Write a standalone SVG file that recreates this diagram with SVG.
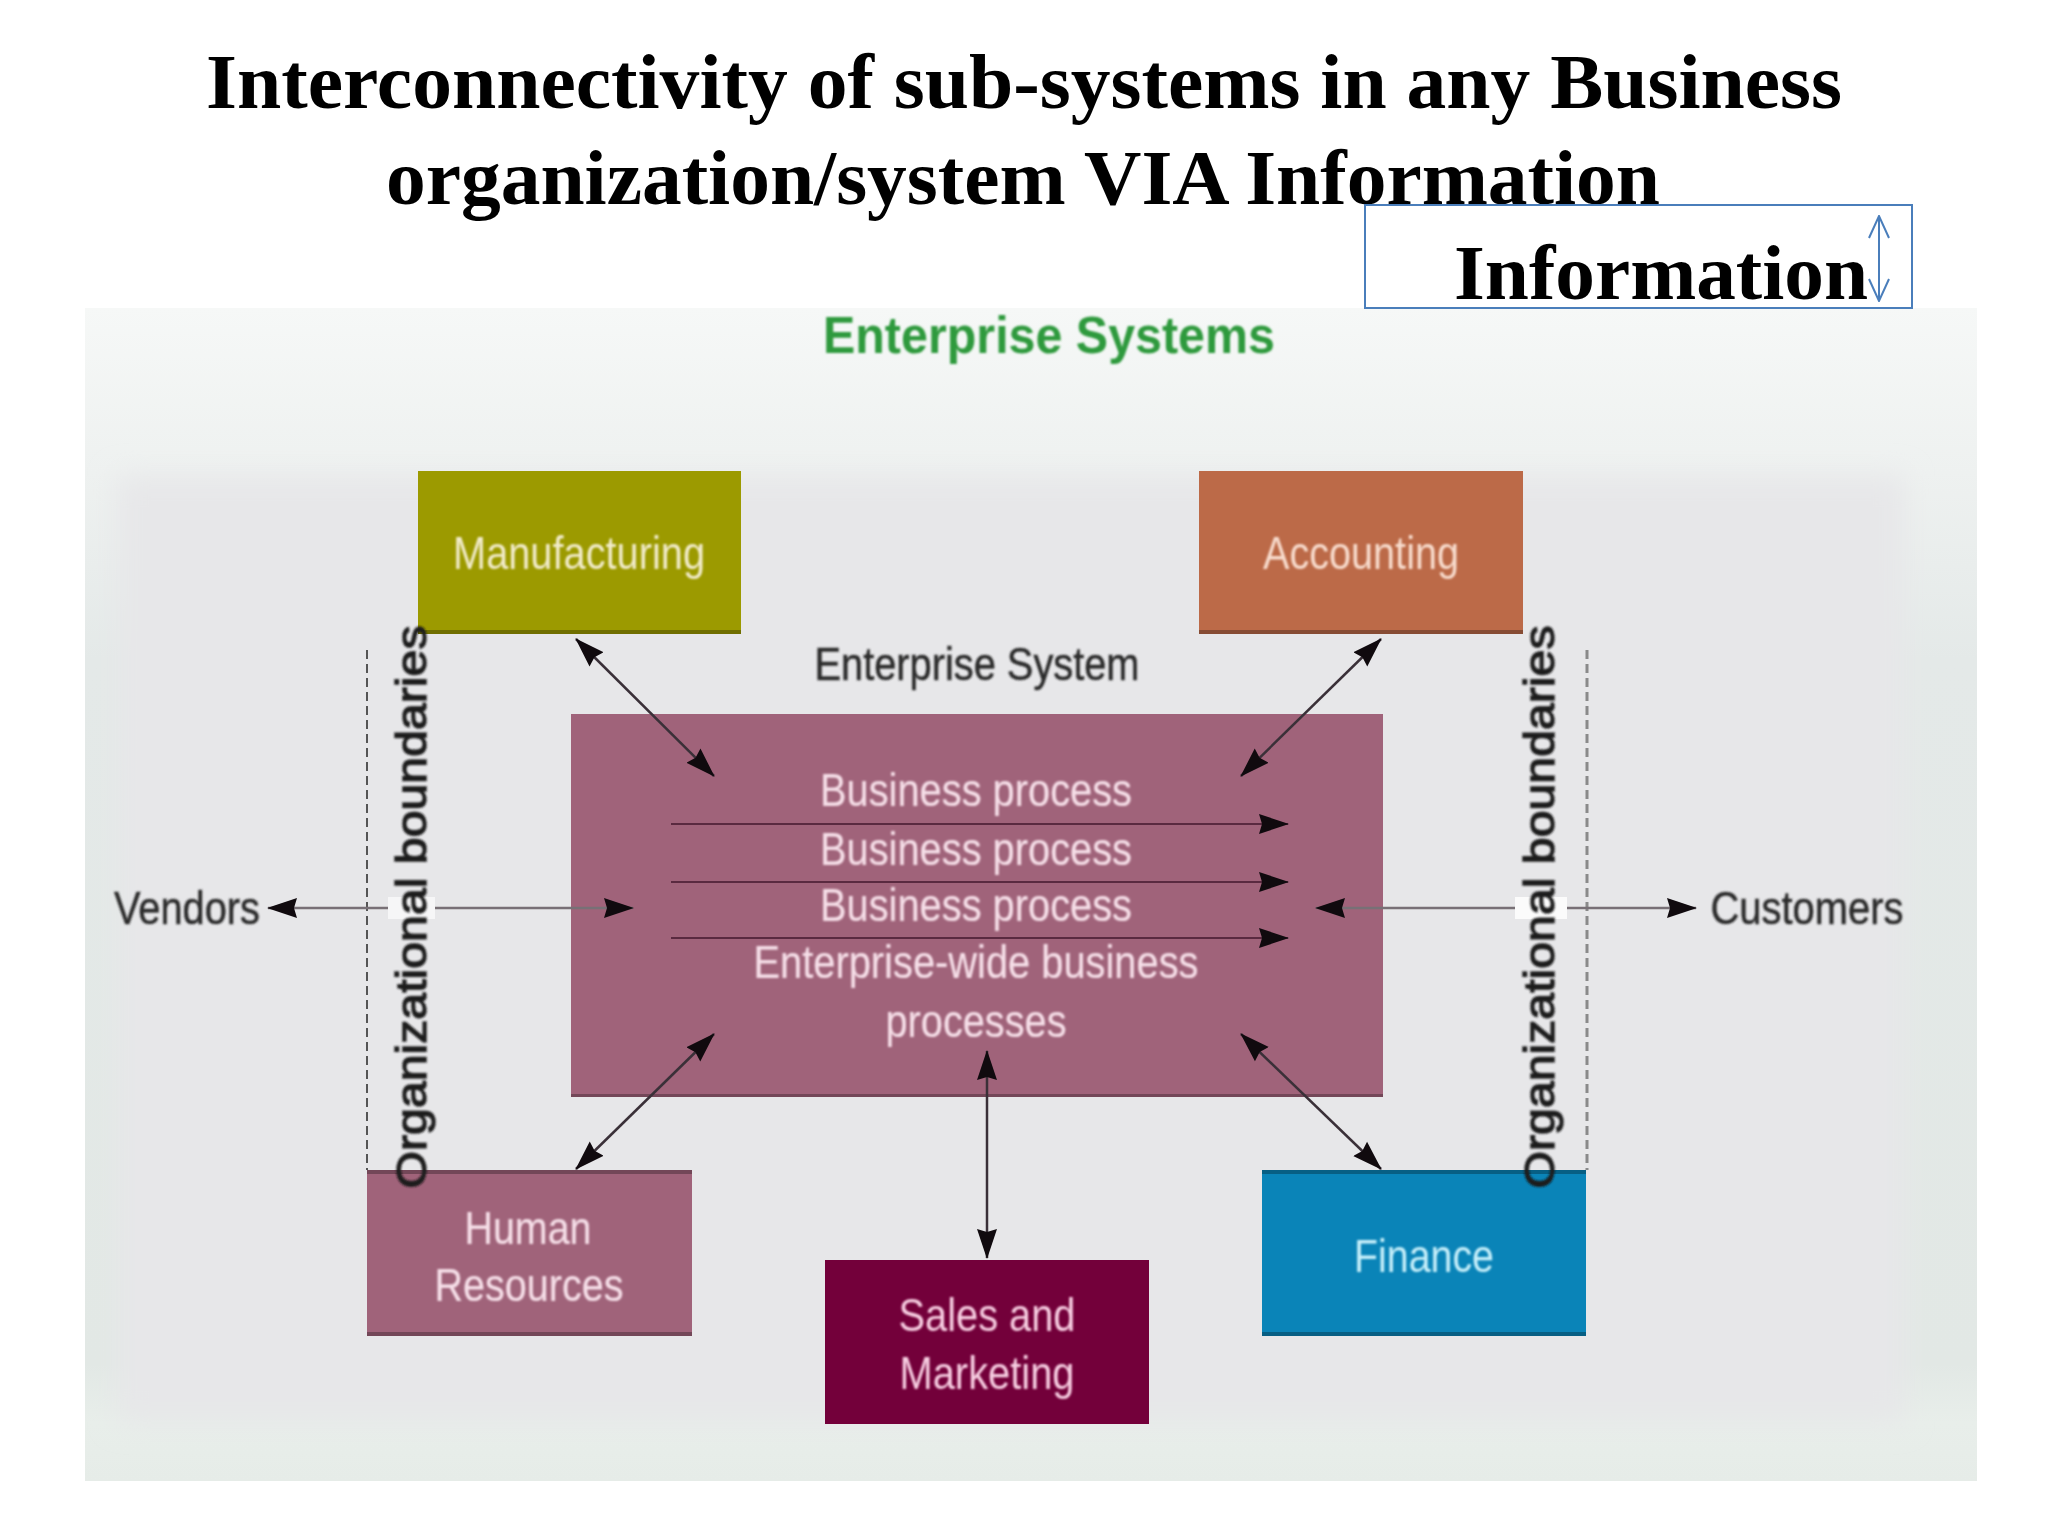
<svg xmlns="http://www.w3.org/2000/svg" width="2048" height="1536" viewBox="0 0 2048 1536">
<style>
.title{font-family:"Liberation Serif","Times New Roman",serif;font-weight:bold;font-size:79px;fill:#000;text-anchor:middle}
.t{font-family:"Liberation Sans",Arial,sans-serif;font-size:46px;text-anchor:middle;filter:url(#soft);stroke-width:.5}
.dark{fill:#2c2c2c;stroke:#2c2c2c}
.pale{fill:#f6dfe8;stroke:#f6dfe8;stroke-width:.2}
.org{font-family:"Liberation Sans",Arial,sans-serif;font-size:42px;fill:#1c1c1c;stroke:#1c1c1c;stroke-width:1.3;text-anchor:middle;filter:url(#soft)}
.c{stroke:#3a3038;stroke-width:2.5;fill:none;marker-start:url(#head);marker-end:url(#head)}
.p{stroke:#5a2a40;stroke-width:2;fill:none;marker-end:url(#head)}
.g{stroke:#787076;stroke-width:2.5;fill:none}
.d{stroke:#555;stroke-width:2;stroke-dasharray:9 5;fill:none}
.edge{fill:#000;opacity:.28}
</style>
<defs>
<filter id="soft" x="-10%" y="-20%" width="120%" height="140%"><feGaussianBlur stdDeviation="0.9"/></filter>
<filter id="wide" x="-10%" y="-10%" width="120%" height="120%"><feGaussianBlur stdDeviation="14"/></filter>
<linearGradient id="bgv" x1="0" y1="0" x2="0" y2="1"><stop offset="0" stop-color="#f6f8f7"/><stop offset=".14" stop-color="#eef1f0"/><stop offset=".3" stop-color="#e4e9e8"/><stop offset=".9" stop-color="#e2e8e5"/><stop offset=".95" stop-color="#e8eeea"/><stop offset="1" stop-color="#e6ece8"/></linearGradient>
<marker id="head" viewBox="0 0 30 22" refX="29" refY="11" markerWidth="30" markerHeight="22" markerUnits="userSpaceOnUse" orient="auto-start-reverse"><path d="M0,1 L30,11 L0,21 L3,11 Z" fill="#100a0e"/></marker>
<marker id="open" viewBox="0 0 24 24" refX="23" refY="12" markerWidth="24" markerHeight="24" markerUnits="userSpaceOnUse" orient="auto-start-reverse"><path d="M1,2 L23,12 L1,22" fill="none" stroke="#4a7ebb" stroke-width="2"/></marker>
</defs>
<rect width="2048" height="1536" fill="#fff"/>
<g id="picture-background">
<rect x="85" y="308" width="1892" height="1173" fill="url(#bgv)"/>
<rect x="118" y="476" width="1786" height="946" fill="#e7e7e9" filter="url(#wide)"/>
</g>
<g id="title">
<text class="title" x="1024" y="108" textLength="1636" lengthAdjust="spacingAndGlyphs">Interconnectivity of sub-systems in any Business</text>
<text class="title" x="1023" y="204" textLength="1274" lengthAdjust="spacingAndGlyphs">organization/system VIA Information</text>
</g>
<g id="information-box">
<rect x="1365" y="205" width="547" height="103" fill="none" stroke="#4a7ebb" stroke-width="2"/>
<text class="title" x="1661" y="299" textLength="414" lengthAdjust="spacingAndGlyphs">Information</text>
<line x1="1879" y1="216" x2="1879" y2="301" stroke="#4a7ebb" stroke-width="2" marker-start="url(#open)" marker-end="url(#open)"/>
</g>
<text id="picture-title" x="1049" y="353" font-family="Liberation Sans, Arial, sans-serif" font-weight="bold" font-size="52" fill="#2f9a3c" text-anchor="middle" textLength="452" lengthAdjust="spacingAndGlyphs" filter="url(#soft)">Enterprise Systems</text>
<g id="enterprise-system">
<rect x="571" y="714" width="812" height="383" fill="#a0637a"/>
<rect class="edge" x="571" y="1094" width="812" height="3"/>
<text class="t dark" x="977" y="680" textLength="325" lengthAdjust="spacingAndGlyphs">Enterprise System</text>
<text class="t pale" x="976" y="806" textLength="312" lengthAdjust="spacingAndGlyphs">Business process</text>
<text class="t pale" x="976" y="865" textLength="312" lengthAdjust="spacingAndGlyphs">Business process</text>
<text class="t pale" x="976" y="921" textLength="312" lengthAdjust="spacingAndGlyphs">Business process</text>
<text class="t pale" x="976" y="978" textLength="445" lengthAdjust="spacingAndGlyphs">Enterprise-wide business</text>
<text class="t pale" x="976" y="1037" textLength="181" lengthAdjust="spacingAndGlyphs">processes</text>
</g>
<g id="manufacturing">
<rect x="418" y="471" width="323" height="163" fill="#9c9a00"/>
<rect class="edge" x="418" y="630" width="323" height="4"/>
<text class="t" fill="#f2eccb" x="579" y="569" textLength="252" lengthAdjust="spacingAndGlyphs">Manufacturing</text>
</g>
<g id="accounting">
<rect x="1199" y="471" width="324" height="163" fill="#bc6a48"/>
<rect class="edge" x="1199" y="630" width="324" height="4"/>
<text class="t" fill="#f8dccd" x="1361" y="569" textLength="196" lengthAdjust="spacingAndGlyphs">Accounting</text>
</g>
<g id="human-resources">
<rect x="367" y="1170" width="325" height="166" fill="#a0637a"/>
<rect class="edge" x="367" y="1170" width="325" height="4"/>
<rect class="edge" x="367" y="1332" width="325" height="4"/>
<text class="t pale" x="528" y="1244" textLength="127" lengthAdjust="spacingAndGlyphs">Human</text>
<text class="t pale" x="529" y="1301" textLength="189" lengthAdjust="spacingAndGlyphs">Resources</text>
</g>
<g id="sales-marketing">
<rect x="825" y="1260" width="324" height="164" fill="#73003a"/>
<text class="t" fill="#f8cfe2" x="987" y="1331" textLength="177" lengthAdjust="spacingAndGlyphs">Sales and</text>
<text class="t" fill="#f8cfe2" x="987" y="1389" textLength="175" lengthAdjust="spacingAndGlyphs">Marketing</text>
</g>
<g id="finance">
<rect x="1262" y="1170" width="324" height="166" fill="#0a84b8"/>
<rect class="edge" x="1262" y="1170" width="324" height="4"/>
<rect class="edge" x="1262" y="1332" width="324" height="4"/>
<text class="t" fill="#c8f0fb" x="1424" y="1272" textLength="140" lengthAdjust="spacingAndGlyphs">Finance</text>
</g>
<g id="connectors">
<path class="p" d="M671,824 H1288"/>
<path class="p" d="M671,882 H1288"/>
<path class="p" d="M671,938 H1288"/>
<path class="d" d="M367,650 V1170"/>
<path class="d" d="M1587,650 V1170" style="stroke:#8a8a8a;stroke-width:3"/>
<path class="g" d="M268,908 H633" marker-start="url(#head)" marker-end="url(#head)"/>
<path class="g" d="M1316,908 H1696" marker-start="url(#head)" marker-end="url(#head)"/>
<path class="c" d="M576,639 L714,776"/>
<path class="c" d="M1381,639 L1241,776"/>
<path class="c" d="M576,1169 L714,1034"/>
<path class="c" d="M1381,1169 L1241,1034"/>
<path class="c" d="M987,1258 V1051"/>
</g>
<g id="boundary-left">
<rect x="388" y="897" width="47" height="22" fill="#f6f6f7"/>
<text class="org" transform="translate(426 907) rotate(-90)" textLength="563" lengthAdjust="spacingAndGlyphs">Organizational boundaries</text>
</g>
<g id="boundary-right">
<rect x="1515" y="897" width="52" height="22" fill="#fbfbfb"/>
<text class="org" transform="translate(1554 907) rotate(-90)" textLength="563" lengthAdjust="spacingAndGlyphs">Organizational boundaries</text>
</g>
<g id="vendors"><text class="t dark" x="187" y="924" textLength="146" lengthAdjust="spacingAndGlyphs">Vendors</text></g>
<g id="customers"><text class="t dark" x="1807" y="924" textLength="193" lengthAdjust="spacingAndGlyphs">Customers</text></g>
</svg>
